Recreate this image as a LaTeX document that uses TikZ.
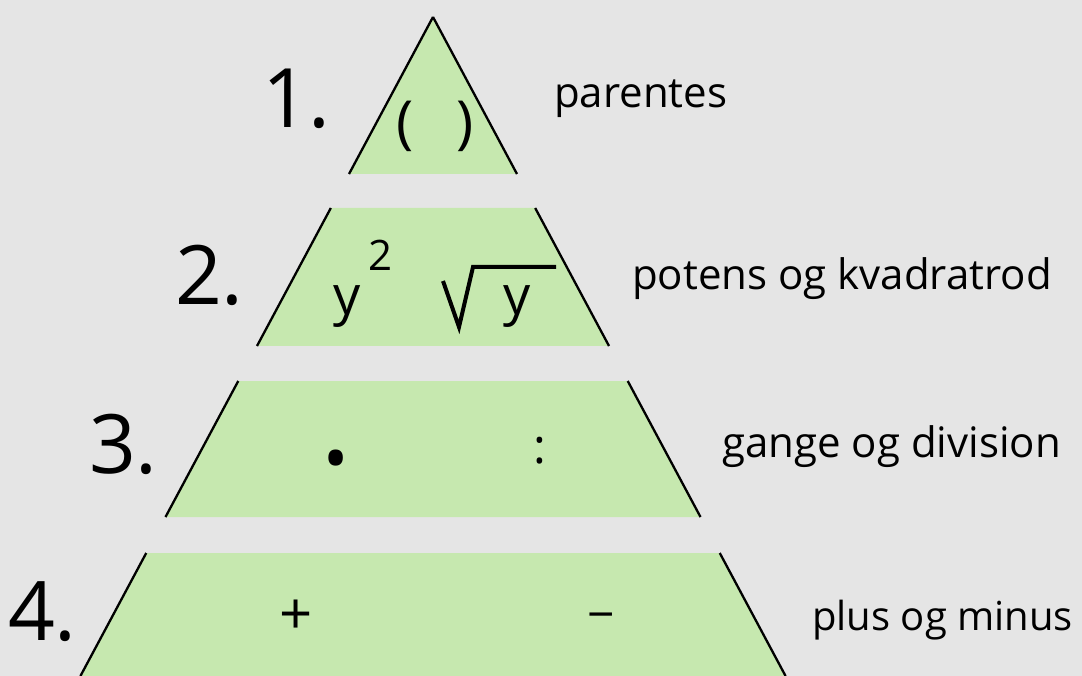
\documentclass[tikz,border=0pt]{standalone}
\usepackage{fontspec}
\setmainfont{Open Sans}
\usepackage{xcolor}
\usepackage{tikz}
\usetikzlibrary{positioning,calc}
\definecolor{bggray}{HTML}{E5E5E5}
\definecolor{tiergreen}{HTML}{C6E8AF}

\begin{document}
\begin{tikzpicture}[x=1pt,y=-1pt,
  tier/.style={fill=tiergreen},
  side/.style={line width=2.3pt},
  num/.style={font=\fontsize{82}{84}\selectfont, anchor=base east, inner sep=0pt},
  lbl/.style={font=\fontsize{42}{44}\selectfont, anchor=base west, inner sep=0pt},
  sym/.style={font=\fontsize{48}{50}\selectfont, inner sep=0pt}]

% background
\fill[bggray] (0,0) rectangle (1082,676);
\useasboundingbox (0,0) rectangle (1082,676);

% the four tiers (top y / bottom y)
\foreach \t/\b in {17/174,208/346,381/517,553/676}{
  \pgfmathsetmacro{\wt}{0.535*(\t-17)}
  \pgfmathsetmacro{\wb}{0.535*(\b-17)}
  \fill[tier] (433-\wt,\t) -- (433+\wt,\t) -- (433+\wb,\b) -- (433-\wb,\b) -- cycle;
  \draw[side] (433-\wt,\t) -- (433-\wb,\b);
  \draw[side] (433+\wt,\t) -- (433+\wb,\b);
}

% numbers
\node[num] (n1) at (331,128) {1.};
\node[num] (n2) at (244,305) {2.};
\node[num] (n3) at (158,473) {3.};
\node[num] (n4) at (77,640) {4.};

% labels
\node[lbl] (l1) at (554,108) {parentes};
\node[lbl] (l2) at (632,290) {potens og kvadratrod};
\node[lbl] (l3) at (722,457) {gange og division};
\node[lbl, font=\fontsize{40}{42}\selectfont] (l4) at (812,630) {plus og minus};

% tier 1
\node[sym, font=\fontsize{58}{60}\selectfont] (lpar) at (405,126) {(};
\node[sym, font=\fontsize{58}{60}\selectfont] (rpar) at (465,126) {)};

% tier 2
\node[sym, font=\fontsize{54}{56}\selectfont] (ysq) at (347,307) {y};
\node[sym, font=\fontsize{42}{44}\selectfont] (two) at (381,255) {2};
\draw[line width=4pt, line join=miter] (443,281) -- (459,327) -- (473,267) -- (556,267);
\node[sym, font=\fontsize{54}{56}\selectfont] (yrt) at (517,307) {y};

% tier 3
\node[sym, font=\fontsize{67}{69}\selectfont, anchor=base] (dot) at (336,482) {•};
\node[sym] (colon) at (540,451) {:};

% tier 4
\node[sym, font=\fontsize{58}{60}\selectfont] (plus) at (296,617) {+};
\node[sym] (minus) at (601,622) {−};
\end{tikzpicture}
\end{document}
